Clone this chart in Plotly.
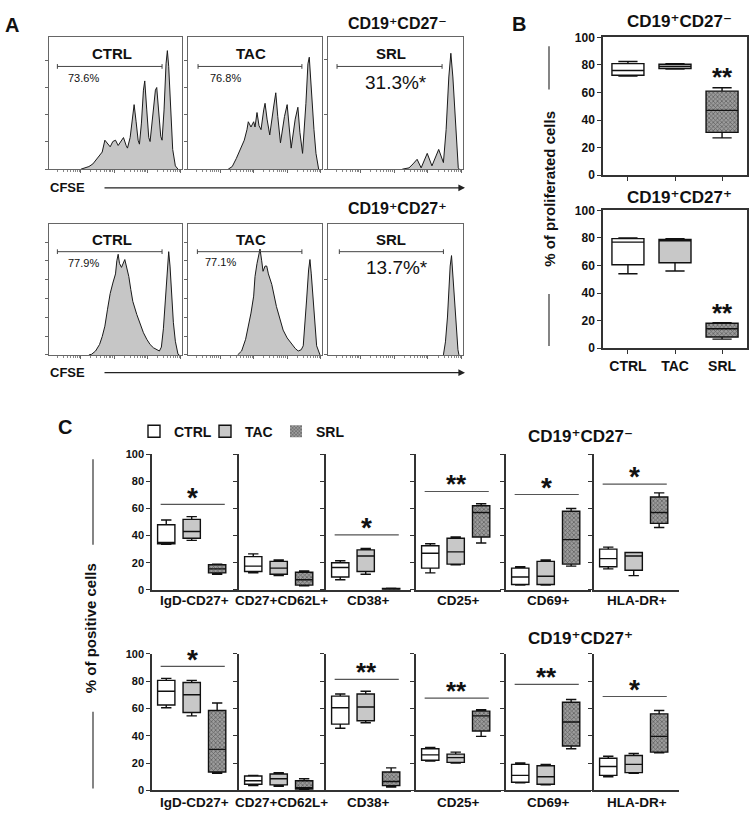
import numpy as np
import plotly.graph_objects as go

W, H = 751, 819
FONT = "Liberation Sans, Arial, Helvetica, DejaVu Sans, sans-serif"

groups = ["CTRL", "TAC", "SRL"]

# ---------------- Panel A: CFSE histograms (x = log10 CFSE, y = % of panel height)
a_neg_ctrl_dec = [1.00, 1.08, 1.24, 1.36, 1.48, 1.56, 1.64, 1.72, 1.80, 1.88, 1.96, 2.04, 2.12, 2.20, 2.28,
                  2.36, 2.40, 2.48, 2.56, 2.60, 2.66, 2.72, 2.76, 2.82, 2.88, 2.92, 2.98, 3.04, 3.08, 3.16,
                  3.24, 3.28, 3.34, 3.40, 3.44, 3.50, 3.56, 3.60, 3.64, 3.70, 3.76, 3.84, 3.92]
a_neg_ctrl_cnt = [0, 0.5, 2, 4, 8, 10, 13, 22, 19, 17, 21, 22, 18, 21, 24,
                  18, 16, 24, 42, 49, 36, 22, 19, 35, 60, 67, 45, 24, 21, 40,
                  60, 62, 42, 25, 22, 45, 80, 90, 78, 40, 15, 2.5, 0]
a_neg_tac_dec = [1.24, 1.36, 1.48, 1.60, 1.72, 1.80, 1.84, 1.92, 2.00, 2.04, 2.10, 2.16, 2.22, 2.30, 2.34,
                 2.40, 2.48, 2.60, 2.66, 2.72, 2.80, 2.92, 3.00, 3.06, 3.12, 3.24, 3.32, 3.38, 3.46, 3.56,
                 3.62, 3.66, 3.72, 3.80, 3.86, 3.94]
a_neg_tac_cnt = [0, 2, 8, 15, 22, 30, 36, 32, 36, 32, 43, 33, 30, 45, 50,
                 38, 26, 48, 58, 40, 20, 40, 49, 32, 16, 38, 47, 28, 12, 50,
                 80, 85, 60, 30, 12, 0]
a_neg_srl_dec = [2.24, 2.44, 2.56, 2.68, 2.80, 2.88, 2.98, 3.12, 3.20, 3.32, 3.46, 3.54, 3.62, 3.68, 3.74,
                 3.80, 3.86, 3.90, 3.93]
a_neg_srl_cnt = [0, 1, 4, 7.5, 1, 6, 12, 2.5, 8, 15, 5, 30, 70, 88, 70, 42, 12, 1, 0]

a_pos_ctrl_dec = [1.24, 1.32, 1.44, 1.56, 1.64, 1.72, 1.80, 1.88, 1.96, 2.04, 2.08, 2.12, 2.16, 2.22, 2.32,
                  2.38, 2.44, 2.50, 2.56, 2.68, 2.78, 2.88, 2.98, 3.08, 3.18, 3.28, 3.36, 3.42, 3.48, 3.54,
                  3.60, 3.64, 3.68, 3.72, 3.78, 3.84, 3.92, 3.96]
a_pos_ctrl_cnt = [0, 0.5, 3, 8, 14, 22, 35, 47, 55, 62, 72, 77, 70, 67, 73,
                  66, 60, 50, 41, 31, 24, 17, 12, 8, 5.5, 4, 3, 6, 20, 42,
                  70, 79, 68, 49, 25, 10.5, 0.5, 0]
a_pos_tac_dec = [1.52, 1.64, 1.76, 1.84, 1.92, 2.00, 2.04, 2.10, 2.16, 2.19, 2.24, 2.28, 2.34, 2.39, 2.44,
                 2.54, 2.68, 2.78, 2.88, 3.00, 3.14, 3.24, 3.33, 3.42, 3.48, 3.54, 3.58, 3.64, 3.68, 3.72,
                 3.78, 3.84, 3.88, 3.98]
a_pos_tac_cnt = [0, 3, 12, 22, 32, 45, 60, 70, 78, 81, 72, 64, 68, 68, 62,
                 54, 37, 27, 19, 13, 8, 5, 3, 4, 7, 25, 42, 65, 73, 62,
                 42, 18, 7, 0]
a_pos_srl_dec = [3.46, 3.52, 3.58, 3.62, 3.66, 3.70, 3.76, 3.80, 3.85, 3.89, 3.92]
a_pos_srl_cnt = [0, 10, 29, 50, 68, 76, 54, 35, 17, 4, 0]

a_neg_pct = ["73.6%", "76.8%", "31.3%*"]
a_pos_pct = ["77.9%", "77.1%", "13.7%*"]

# ---------------- Panel B: % proliferated cells [min, q1, median, q3, max] for CTRL, TAC, SRL
b_neg_ctrl = [72, 72.5, 76, 81, 82.5]
b_neg_tac = [77, 77.5, 79, 80.5, 81]
b_neg_srl = [27, 31, 47, 61, 63.5]
b_pos_ctrl = [54, 60.5, 77, 79.5, 80]
b_pos_tac = [56, 62, 78, 79, 79.5]
b_pos_srl = [6.5, 8, 14, 18, 18.5]

# ---------------- Panel C: % positive cells [min, q1, median, q3, max] per marker: CTRL, TAC, SRL
c_markers = ["IgD-CD27+", "CD27+CD62L+", "CD38+", "CD25+", "CD69+", "HLA-DR+"]
c_neg_igd = [[33.5, 34, 35, 48, 51.5], [36.5, 38, 43, 52, 54], [11.5, 12.5, 15.5, 18.5, 19]]
c_neg_cd62l = [[12.5, 13.5, 17.5, 24.5, 26.5], [10.5, 11.5, 16, 21, 22], [3, 3.5, 7.5, 13, 14]]
c_neg_cd38 = [[7.5, 9.5, 16.5, 20, 21.5], [11.5, 13.5, 25, 29.5, 30.5], [0.2, 0.3, 0.6, 1, 1.3]]
c_neg_cd25 = [[12.5, 16, 27, 32.5, 34], [18.5, 19, 28, 38, 39], [34.5, 39, 57, 62, 63.5]]
c_neg_cd69 = [[3.5, 4, 9.5, 16, 17], [3.5, 4, 10, 21, 22], [17.5, 19, 37, 58, 60]]
c_neg_hla = [[15.5, 17, 23, 30, 31.5], [10.5, 14.5, 25, 27.5, 27.5], [46, 49, 57, 68.5, 71.5]]

c_pos_igd = [[60.5, 62.5, 72.5, 80.5, 82], [54.5, 57, 70, 79, 80.5], [12.5, 13.5, 30, 58.5, 64]]
c_pos_cd62l = [[3.5, 4.5, 7, 10.5, 11], [3, 4, 8.5, 12, 13], [0.5, 1, 2, 7, 8.5]]
c_pos_cd38 = [[45.5, 48.5, 60.5, 69, 70.5], [49.5, 51, 61, 70.5, 72.5], [2.5, 3.5, 6.5, 13.5, 16.5]]
c_pos_cd25 = [[21.5, 22, 26, 30.5, 31.5], [20, 20.5, 24, 26.5, 28], [39.5, 43.5, 54.5, 58, 59]]
c_pos_cd69 = [[5.5, 6, 11, 19, 20], [4, 4.5, 10, 18, 19], [30.5, 32.5, 50, 64.5, 66.5]]
c_pos_hla = [[10, 11, 17.5, 23.5, 25], [12.5, 13, 19, 25.5, 27], [27.5, 28, 39.5, 56, 58.5]]

c_neg_sig = ["*", "", "*", "**", "*", "*"]
c_neg_sig_y = [63, None, 40.6, 72.5, 70.3, 78]
c_pos_sig = ["*", "", "**", "**", "**", "*"]
c_pos_sig_y = [90.8, None, 81.2, 67.5, 77.6, 68.7]

TITLE_NEG = "CD19⁺CD27⁻"
TITLE_POS = "CD19⁺CD27⁺"

# ---------------------------------------------------------------------------
fig = go.Figure()
L = {}
cnt = [0]
anns = []
shapes = []


def axes(l, r, t, b, xo, yo):
    cnt[0] += 1
    s = "" if cnt[0] == 1 else str(cnt[0])
    L["xaxis" + s] = dict(domain=[l / W, r / W], anchor="y" + s, **xo)
    L["yaxis" + s] = dict(domain=[1 - b / H, 1 - t / H], anchor="x" + s, **yo)
    return "x" + s, "y" + s


def ann(text, x, y, size, bold=True, xref="paper", yref="paper", xanchor="center",
        yanchor="middle", angle=0, yshift=0):
    if xref == "paper":
        x = x / W
    if yref == "paper":
        y = 1 - y / H
    anns.append(dict(text=text, x=x, y=y, xref=xref, yref=yref, xanchor=xanchor,
                     yanchor=yanchor, textangle=angle, yshift=yshift, showarrow=False,
                     font=dict(family=FONT, size=size, color="#111",
                               weight="bold" if bold else "normal")))


def vline(x, y0, y1):
    shapes.append(dict(type="line", xref="paper", yref="paper", x0=x / W, x1=x / W,
                       y0=1 - y0 / H, y1=1 - y1 / H, line=dict(color="#333", width=1.2)))


# ---------------- Panel A
a_left = [49, 188, 328]
a_right = [182, 322, 463]
a_rows = [
    dict(t=31, b=165, decs=[a_neg_ctrl_dec, a_neg_tac_dec, a_neg_srl_dec],
         cnts=[a_neg_ctrl_cnt, a_neg_tac_cnt, a_neg_srl_cnt], pct=a_neg_pct,
         dticks=[20.7, 20.7, 41.5], gates=[(0.063, 0.85), (0.075, 0.85), (0.067, 0.845)], gh=0.78,
         ppos=[(0.128, 0.69), (0.15, 0.69), (0.5, 0.66)]),
    dict(t=221, b=354, decs=[a_pos_ctrl_dec, a_pos_tac_dec, a_pos_srl_dec],
         cnts=[a_pos_ctrl_cnt, a_pos_tac_cnt, a_pos_srl_cnt], pct=a_pos_pct,
         dticks=[14.4, 14.4, 57.6], gates=[(0.063, 0.85), (0.07, 0.85), (0.084, 0.855)], gh=0.79,
         ppos=[(0.13, 0.70), (0.11, 0.71), (0.51, 0.67)]),
]
for row in a_rows:
    for j in range(3):
        xo = dict(type="log", range=[0.04, 4.04], dtick=1, ticks="outside", ticklen=3,
                  tickcolor="#666", showticklabels=False, showline=True, mirror=True,
                  linecolor="#666", linewidth=1, showgrid=False, zeroline=False,
                  minor=dict(ticks="outside", ticklen=2, tickcolor="#888", showgrid=False))
        yo = dict(range=[0, 100], tick0=0, dtick=row["dticks"][j], ticks="outside", ticklen=3,
                  tickcolor="#666", showticklabels=False, showline=True, mirror=True,
                  linecolor="#666", linewidth=1, showgrid=False, zeroline=False)
        xa, ya = axes(a_left[j], a_right[j], row["t"], row["b"], xo, yo)
        fig.add_trace(go.Scatter(x=10 ** np.array(row["decs"][j]), y=row["cnts"][j], mode="lines",
                                 line=dict(color="#1a1a1a", width=1), fill="tozeroy",
                                 fillcolor="#c6c6c6", xaxis=xa, yaxis=ya, showlegend=False,
                                 hoverinfo="skip"))
        ann(groups[j], 0.47, 0.88, 15, xref=xa + " domain", yref=ya + " domain")
        f0, f1 = row["gates"][j]
        gh = row["gh"]
        d = 0.018
        shapes.append(dict(type="path", xref=xa + " domain", yref=ya + " domain",
                           path=f"M{f0},{gh - d} L{f0},{gh + d} M{f0},{gh} L{f1},{gh} M{f1},{gh - d} L{f1},{gh + d}",
                           line=dict(color="#444", width=1)))
        px_, py_ = row["ppos"][j]
        if j == 2:
            ann(row["pct"][j], px_, py_, 19, bold=False, xref=xa + " domain", yref=ya + " domain")
        else:
            ann(row["pct"][j], px_, py_, 11, bold=False, xref=xa + " domain", yref=ya + " domain",
                xanchor="left")

ann(TITLE_NEG, 397, 17, 16)
ann(TITLE_POS, 397, 205, 16)
for yy in (184, 372):
    ann("CFSE", 48, yy, 13, xanchor="left")
    anns.append(dict(x=465 / W, y=1 - yy / H, xref="paper", yref="paper", ax=-362, ay=0,
                     text="", showarrow=True, arrowhead=2, arrowsize=1.1, arrowwidth=1.2,
                     arrowcolor="#222"))

ann("A", 12, 18, 20)
ann("B", 519, 17, 20)
ann("C", 65, 427, 20)


# ---------------- box drawing
def draw_boxes(xa, ya, data, width, legend=False):
    fills = ["#ffffff", "#c8c8c8", "rgba(0,0,0,0)"]
    for j, st in enumerate(data):
        lo, q1, med, q3, hi = st
        if j == 2:
            fig.add_trace(go.Bar(x=[j], y=[q3 - q1], base=[q1], width=width,
                                 marker=dict(color="#8c8c8c", line=dict(width=0),
                                             pattern=dict(shape="x", fgcolor="#2a2a2a",
                                                          bgcolor="#9c9c9c", size=3, solidity=0.45)),
                                 xaxis=xa, yaxis=ya, name=groups[j], showlegend=legend,
                                 legendrank=3, hoverinfo="skip"))
        fig.add_trace(go.Box(x=[j], q1=[q1], median=[med], q3=[q3], lowerfence=[lo],
                             upperfence=[hi], width=width, fillcolor=fills[j],
                             line=dict(color="#111", width=1.4), whiskerwidth=0.6,
                             boxpoints=False, xaxis=xa, yaxis=ya, name=groups[j],
                             showlegend=legend and j < 2, legendrank=j + 1, hoverinfo="skip"))


# ---------------- Panel B
b_rows = [(31, 171, [b_neg_ctrl, b_neg_tac, b_neg_srl], False, 73.6, 15, TITLE_NEG),
          (207, 347, [b_pos_ctrl, b_pos_tac, b_pos_srl], True, 27.9, 194, TITLE_POS)]
for t, b, data, lab, star_y, title_y, title in b_rows:
    xo = dict(range=[-0.53, 2.53], tickvals=[0, 1, 2], ticktext=groups, showticklabels=lab,
              ticks="outside", ticklen=4, tickcolor="#333", showline=True, mirror=True,
              linecolor="#333", linewidth=1.5, showgrid=False, zeroline=False,
              tickfont=dict(family=FONT, size=14, weight="bold", color="#111"))
    yo = dict(range=[0, 100], dtick=20, ticks="outside", ticklen=4, tickcolor="#333",
              showline=True, mirror=True, linecolor="#333", linewidth=1.5, showgrid=False,
              zeroline=False, tickfont=dict(family=FONT, size=12, weight="bold", color="#111"))
    xa, ya = axes(603, 747, t, b, xo, yo)
    draw_boxes(xa, ya, data, 0.68)
    ann("**", 2, star_y, 26, xref=xa, yref=ya, yshift=-3)
    ann(title, 679, title_y, 17)

ann("% of proliferated cells", 550, 185, 15, angle=-90)
vline(549, 40, 84)
vline(549, 292, 345)

# ---------------- Panel C
c_left = [152, 239, 326, 416, 506, 594]
C_W = 85
c_rows = [
    (455, 593, 604, [c_neg_igd, c_neg_cd62l, c_neg_cd38, c_neg_cd25, c_neg_cd69, c_neg_hla],
     c_neg_sig, c_neg_sig_y, 437, TITLE_NEG),
    (658, 797, 809, [c_pos_igd, c_pos_cd62l, c_pos_cd38, c_pos_cd25, c_pos_cd69, c_pos_hla],
     c_pos_sig, c_pos_sig_y, 642, TITLE_POS),
]
first = True
for t, b, lab_y, datas, sigs, sig_ys, title_y, title in c_rows:
    for i, l in enumerate(c_left):
        xo = dict(range=[-0.56, 2.78], showline=True, linecolor="#333", linewidth=1.5, ticks="",
                  showticklabels=False, showgrid=False, zeroline=False)
        yo = dict(range=[0, 100], dtick=20, ticks="outside", ticklen=4, tickcolor="#333",
                  showline=True, linecolor="#333", linewidth=1.5, showgrid=False, zeroline=False,
                  showticklabels=(i == 0),
                  tickfont=dict(family=FONT, size=11, weight="bold", color="#111"))
        xa, ya = axes(l, l + C_W, t, b, xo, yo)
        draw_boxes(xa, ya, datas[i], 0.68, legend=(first and i == 0))
        ann(c_markers[i], 0.5, lab_y, 13.5, xref=xa + " domain")
        if sigs[i]:
            yv = sig_ys[i]
            shapes.append(dict(type="line", xref=xa, yref=ya, x0=-0.22, x1=2.3, y0=yv, y1=yv,
                               line=dict(color="#555", width=1.2)))
            ann(sigs[i], 1.05, yv + 7.5, 28 if sigs[i] == "*" else 26, xref=xa, yref=ya,
                yshift=-3)
    ann(title, 580, title_y, 17)
    first = False

ann("% of positive cells", 90, 632, 15, angle=-90)
vline(93, 460, 547)
vline(93, 717, 795)

fig.update_layout(
    width=W, height=H, margin=dict(l=0, r=0, t=0, b=0),
    paper_bgcolor="white", plot_bgcolor="white",
    barmode="overlay", boxmode="overlay", showlegend=True,
    legend=dict(orientation="h", x=134 / W, y=1 - 432 / H, xanchor="left", yanchor="middle",
                font=dict(family=FONT, size=14, weight="bold", color="#111"),
                bgcolor="rgba(0,0,0,0)", itemwidth=30, entrywidth=26, entrywidthmode="pixels"),
    annotations=anns, shapes=shapes, font=dict(family=FONT),
    **L,
)
fig.write_html("out.html", config={"displayModeBar": False},
               post_script="document.body.style.margin='0';document.body.style.padding='0';"
                           "document.body.style.overflow='hidden';")
